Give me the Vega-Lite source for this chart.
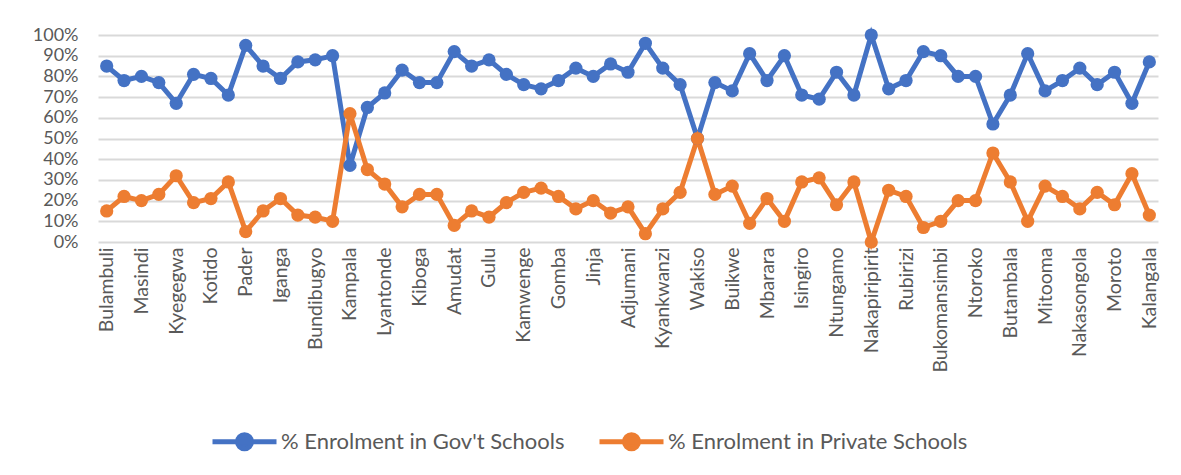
{
  "$schema": "https://vega.github.io/schema/vega-lite/v6.json",
  "width": 1060,
  "height": 207,
  "autosize": {"type": "none"},
  "padding": {"left": 98, "top": 35, "right": 23, "bottom": 233},
  "background": "white",
  "config": {
    "view": {"stroke": null},
    "font": "Lato",
    "axis": {"labelFont": "Lato", "labelColor": "#595959"},
    "legend": {"labelFont": "Lato"}
  },
  "data": {
    "values": [
      {"i": 1, "district": "Bulambuli", "gov": 85, "private": 15},
      {"i": 2, "district": "(2)", "gov": 78, "private": 22},
      {"i": 3, "district": "Masindi", "gov": 80, "private": 20},
      {"i": 4, "district": "(4)", "gov": 77, "private": 23},
      {"i": 5, "district": "Kyegegwa", "gov": 67, "private": 32},
      {"i": 6, "district": "(6)", "gov": 81, "private": 19},
      {"i": 7, "district": "Kotido", "gov": 79, "private": 21},
      {"i": 8, "district": "(8)", "gov": 71, "private": 29},
      {"i": 9, "district": "Pader", "gov": 95, "private": 5},
      {"i": 10, "district": "(10)", "gov": 85, "private": 15},
      {"i": 11, "district": "Iganga", "gov": 79, "private": 21},
      {"i": 12, "district": "(12)", "gov": 87, "private": 13},
      {"i": 13, "district": "Bundibugyo", "gov": 88, "private": 12},
      {"i": 14, "district": "(14)", "gov": 90, "private": 10},
      {"i": 15, "district": "Kampala", "gov": 37, "private": 62},
      {"i": 16, "district": "(16)", "gov": 65, "private": 35},
      {"i": 17, "district": "Lyantonde", "gov": 72, "private": 28},
      {"i": 18, "district": "(18)", "gov": 83, "private": 17},
      {"i": 19, "district": "Kiboga", "gov": 77, "private": 23},
      {"i": 20, "district": "(20)", "gov": 77, "private": 23},
      {"i": 21, "district": "Amudat", "gov": 92, "private": 8},
      {"i": 22, "district": "(22)", "gov": 85, "private": 15},
      {"i": 23, "district": "Gulu", "gov": 88, "private": 12},
      {"i": 24, "district": "(24)", "gov": 81, "private": 19},
      {"i": 25, "district": "Kamwenge", "gov": 76, "private": 24},
      {"i": 26, "district": "(26)", "gov": 74, "private": 26},
      {"i": 27, "district": "Gomba", "gov": 78, "private": 22},
      {"i": 28, "district": "(28)", "gov": 84, "private": 16},
      {"i": 29, "district": "Jinja", "gov": 80, "private": 20},
      {"i": 30, "district": "(30)", "gov": 86, "private": 14},
      {"i": 31, "district": "Adjumani", "gov": 82, "private": 17},
      {"i": 32, "district": "(32)", "gov": 96, "private": 4},
      {"i": 33, "district": "Kyankwanzi", "gov": 84, "private": 16},
      {"i": 34, "district": "(34)", "gov": 76, "private": 24},
      {"i": 35, "district": "Wakiso", "gov": 50, "private": 50},
      {"i": 36, "district": "(36)", "gov": 77, "private": 23},
      {"i": 37, "district": "Buikwe", "gov": 73, "private": 27},
      {"i": 38, "district": "(38)", "gov": 91, "private": 9},
      {"i": 39, "district": "Mbarara", "gov": 78, "private": 21},
      {"i": 40, "district": "(40)", "gov": 90, "private": 10},
      {"i": 41, "district": "Isingiro", "gov": 71, "private": 29},
      {"i": 42, "district": "(42)", "gov": 69, "private": 31},
      {"i": 43, "district": "Ntungamo", "gov": 82, "private": 18},
      {"i": 44, "district": "(44)", "gov": 71, "private": 29},
      {"i": 45, "district": "Nakapiripirit", "gov": 100, "private": 0},
      {"i": 46, "district": "(46)", "gov": 74, "private": 25},
      {"i": 47, "district": "Rubirizi", "gov": 78, "private": 22},
      {"i": 48, "district": "(48)", "gov": 92, "private": 7},
      {"i": 49, "district": "Bukomansimbi", "gov": 90, "private": 10},
      {"i": 50, "district": "(50)", "gov": 80, "private": 20},
      {"i": 51, "district": "Ntoroko", "gov": 80, "private": 20},
      {"i": 52, "district": "(52)", "gov": 57, "private": 43},
      {"i": 53, "district": "Butambala", "gov": 71, "private": 29},
      {"i": 54, "district": "(54)", "gov": 91, "private": 10},
      {"i": 55, "district": "Mitooma", "gov": 73, "private": 27},
      {"i": 56, "district": "(56)", "gov": 78, "private": 22},
      {"i": 57, "district": "Nakasongola", "gov": 84, "private": 16},
      {"i": 58, "district": "(58)", "gov": 76, "private": 24},
      {"i": 59, "district": "Moroto", "gov": 82, "private": 18},
      {"i": 60, "district": "(60)", "gov": 67, "private": 33},
      {"i": 61, "district": "Kalangala", "gov": 87, "private": 13}
    ]
  },
  "transform": [
    {"fold": ["gov", "private"], "as": ["key", "pct"]},
    {"calculate": "datum.key == 'gov' ? '% Enrolment in Gov\\'t Schools' : '% Enrolment in Private Schools'", "as": "series"}
  ],
  "encoding": {
    "x": {
      "field": "district",
      "type": "nominal",
      "sort": {"field": "i", "op": "min"},
      "scale": {"type": "point", "padding": 0.5},
      "axis": {
        "title": null,
        "values": ["Bulambuli","Masindi","Kyegegwa","Kotido","Pader","Iganga","Bundibugyo","Kampala","Lyantonde","Kiboga","Amudat","Gulu","Kamwenge","Gomba","Jinja","Adjumani","Kyankwanzi","Wakiso","Buikwe","Mbarara","Isingiro","Ntungamo","Nakapiripirit","Rubirizi","Bukomansimbi","Ntoroko","Butambala","Mitooma","Nakasongola","Moroto","Kalangala"],
        "labelAngle": -90,
        "labelFontSize": 19.5,
        "labelPadding": 5,
        "labelLimit": 200,
        "ticks": false,
        "domain": false,
        "grid": false
      }
    },
    "y": {
      "field": "pct",
      "type": "quantitative",
      "scale": {"domain": [0, 100], "nice": false},
      "axis": {
        "title": null,
        "values": [0,10,20,30,40,50,60,70,80,90,100],
        "labelExpr": "datum.value + '%'",
        "labelFontSize": 18,
        "labelPadding": 20,
        "ticks": false,
        "domain": false,
        "gridColor": "#d9d9d9",
        "gridWidth": 2
      }
    },
    "color": {
      "field": "series",
      "type": "nominal",
      "scale": {"range": ["#4472C4", "#ED7D31"]},
      "legend": {
        "title": null,
        "orient": "none",
        "direction": "horizontal",
        "legendX": 112,
        "legendY": 372,
        "labelFontSize": 22,
        "labelColor": "#595959",
        "labelOffset": 2,
        "labelLimit": 400,
        "columnPadding": 24,
        "symbolType": "M-1,0H1M0.22,0A0.22,0.22 0 1,1 -0.22,0A0.22,0.22 0 1,1 0.22,0",
        "symbolSize": 4096,
        "symbolStrokeWidth": 5
      }
    }
  },
  "layer": [
    {"mark": {"type": "line", "strokeWidth": 5}},
    {"mark": {"type": "circle", "size": 175, "opacity": 1}}
  ]
}
